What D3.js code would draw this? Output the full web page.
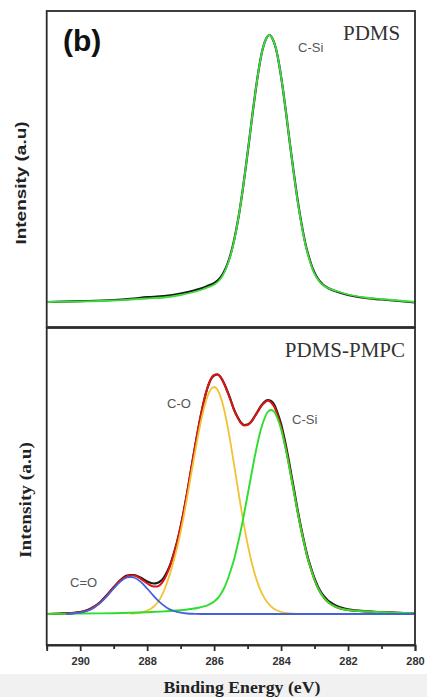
<!DOCTYPE html>
<html>
<head>
<meta charset="utf-8">
<script src="https://cdn.jsdelivr.net/npm/d3@7/dist/d3.min.js"></script>
<style>
  html, body { margin: 0; padding: 0; background: #ffffff; }
  svg { display: block; }
</style>
</head>
<body>
<svg id="chart" width="427" height="697"></svg>
<script>
// ---------------- DATA (binding energy eV, intensity a.u. above baseline) ----------------
const majorTicks = [290, 288, 286, 284, 282, 280];
const minorTicks = [291, 289, 287, 285, 283, 281];

// Top panel: PDMS
const pdmsData = [
  [291.0,0],[290.0,0.8],[289.0,2],[288.5,3.2],[288.0,4.8],[287.5,6],[287.0,8.5],[286.6,11.5],
  [286.35,14],[286.2,16],[286.05,18],[285.95,20],[285.85,23],[285.75,27.5],[285.65,34],
  [285.55,43],[285.45,55],[285.35,70.5],[285.25,89],[285.15,111],[285.05,136],[284.95,162],
  [284.85,189],[284.75,214],[284.65,236],[284.55,253],[284.45,263],[284.35,267],[284.25,263],
  [284.15,253],[284.05,236],[283.95,214],[283.85,189],[283.75,162],[283.65,136.5],[283.55,112],
  [283.45,90],[283.35,71],[283.25,55],[283.15,43],[283.05,33],[282.95,26],[282.85,21],
  [282.75,17.5],[282.6,14],[282.35,10.5],[282.0,7],[281.5,4],[281.0,2.5],[280.5,1],[280.0,-0.5]
];
const pdmsFit = [
  [291.0,0],[290.0,0.5],[289.0,1.5],[288.5,2.5],[288.0,3.5],[287.5,4.5],[287.0,7],[286.6,10],
  [286.35,12.5],[286.2,14.5],[286.05,16.5],[285.95,18.5],[285.85,21.5],[285.75,26],[285.65,33],
  [285.55,42],[285.45,54],[285.35,70],[285.25,89],[285.15,111],[285.05,136],[284.95,162],
  [284.85,189],[284.75,214],[284.65,236],[284.55,253],[284.45,263],[284.35,267],[284.25,263],
  [284.15,253],[284.05,236],[283.95,214],[283.85,189],[283.75,162],[283.65,136],[283.55,111],
  [283.45,89],[283.35,70],[283.25,54],[283.15,42],[283.05,32],[282.95,25],[282.85,20.5],
  [282.75,17],[282.6,14],[282.35,11],[282.0,7.5],[281.5,4.5],[281.0,3],[280.5,1.5],[280.0,0]
];

// Bottom panel: PDMS-PMPC
const coPeak = [ // C-O component (yellow)
  [288.5,0.3],[288.4,0.5],[288.2,1.4],[288.0,3.3],[287.9,5],[287.8,7.5],[287.7,11],[287.6,16],
  [287.5,23],[287.4,32],[287.3,42],[287.2,54],[287.1,67],[287.0,82],[286.9,99],[286.8,117.5],
  [286.7,137],[286.6,156],[286.5,174.5],[286.4,191.5],[286.3,206],[286.2,217.4],[286.1,224.5],
  [286.0,227],[285.9,224.3],[285.8,216.6],[285.7,204.2],[285.6,188],[285.5,169.2],[285.4,148.7],
  [285.3,127.6],[285.2,107],[285.1,87.6],[285.0,70],[284.9,54.7],[284.8,41.7],[284.7,31.1],
  [284.6,22.6],[284.5,16.1],[284.4,11.2],[284.3,7.6],[284.2,5.0],[284.1,3.2],[284.0,2.0],
  [283.8,0.8],[283.6,0.3]
];
const csiPeak = [ // C-Si component (green)
  [291.0,0],[290.5,0.3],[290.0,0.5],[289.5,0.65],[289.0,0.8],[288.5,1.2],[288.0,1.8],[287.6,2.4],
  [287.3,3],[287.0,3.8],[286.7,5],[286.5,6],[286.4,6.8],[286.3,7.6],[286.2,8.7],[286.1,10.3],
  [286.0,12.5],[285.9,15.5],[285.8,20],[285.7,26],[285.6,34],[285.5,44],[285.4,55],[285.3,69],
  [285.2,84],[285.1,101],[285.0,119],[284.9,137],[284.8,155],[284.7,171],[284.6,185],[284.5,195],
  [284.4,202],[284.3,204],[284.2,202],[284.1,195],[284.0,185],[283.9,171],[283.8,155],[283.7,137],
  [283.6,119],[283.5,101],[283.4,84],[283.3,69],[283.2,55],[283.1,44],[283.0,34],[282.9,26],
  [282.8,20],[282.7,15.5],[282.6,12],[282.5,9.5],[282.4,7.7],[282.3,6.3],[282.1,4.5],[281.9,3.5],
  [281.6,2.8],[281.3,2.2],[280.8,1.6],[280.3,1.1],[280.0,0.9]
];
const cdoPeak = [ // C=O component (blue)
  [290.4,0],[290.2,0.5],[290.0,1.3],[289.8,3.0],[289.6,6.1],[289.4,11.1],[289.2,17.9],[289.0,25.5],
  [288.8,32.4],[288.6,36.5],[288.5,37],[288.4,36.5],[288.2,32.4],[288.0,25.5],[287.8,17.9],
  [287.6,11.1],[287.4,6.1],[287.2,3.0],[287.0,1.3],[286.8,0.5],[286.6,0.2],[286.4,0],[280.0,0]
];
const envelope = [ // cumulative fit (red)
  [291.0,0],[290.6,0.3],[290.4,0.5],[290.2,0.9],[290.0,1.7],[289.8,3.5],[289.6,6.7],[289.4,11.8],
  [289.2,18.6],[289.0,26.3],[288.8,33.4],[288.6,37.8],[288.5,38.5],[288.4,38.4],[288.2,35.4],
  [288.0,30.6],[287.8,27.4],[287.7,27.6],[287.6,29.5],[287.5,34],[287.4,40.9],[287.3,49.4],
  [287.2,60.2],[287.1,72.6],[287.0,87.1],[286.9,103.9],[286.8,122.4],[286.7,142.3],[286.6,161.9],
  [286.5,180.6],[286.4,198.3],[286.3,213.6],[286.2,226.1],[286.1,234.8],[286.0,239],[285.9,239.8],
  [285.8,236.6],[285.7,230.2],[285.6,222],[285.5,213.2],[285.4,203.7],[285.3,196.6],[285.2,191],
  [285.1,188.6],[285.0,189],[284.9,191.7],[284.8,196.7],[284.7,202.1],[284.6,207.6],[284.5,211.1],
  [284.4,213.2],[284.3,211.6],[284.2,207],[284.1,198.2],[284.0,187],[283.9,172.2],[283.8,155.8],
  [283.7,137.5],[283.6,119.3],[283.5,101],[283.4,84],[283.3,69],[283.2,55],[283.1,44],[283.0,34],
  [282.9,26],[282.8,20],[282.7,15.5],[282.6,12],[282.5,9.5],[282.4,7.7],[282.3,6.3],[282.1,4.5],
  [281.9,3.5],[281.6,2.8],[281.3,2.2],[280.8,1.6],[280.3,1.1],[280.0,0.9]
];
const measured = [ // raw spectrum (black)
  [291.0,0],[290.6,0.5],[290.4,0.8],[290.2,1.2],[290.0,2],[289.8,3.8],[289.6,7],[289.4,12],
  [289.2,19],[289.0,26.8],[288.8,34],[288.6,38.5],[288.5,39],[288.4,39],[288.2,36.5],
  [288.0,32.5],[287.8,30.5],[287.7,31],[287.6,32.8],[287.5,36.5],[287.4,42.5],[287.3,50.5],
  [287.2,61],[287.1,73],[287.0,87.5],[286.9,104],[286.8,122.4],[286.7,142],[286.6,161.5],
  [286.5,180.6],[286.4,198],[286.3,213.6],[286.2,226],[286.1,234.5],[286.0,238.5],[285.9,239.5],
  [285.8,236.6],[285.7,230.5],[285.6,222.5],[285.5,213.5],[285.4,204],[285.3,197],[285.2,191.5],
  [285.1,189],[285.0,189.5],[284.9,192],[284.8,197],[284.7,202.5],[284.6,208],[284.5,212],
  [284.4,214],[284.3,213],[284.2,209],[284.1,200.5],[284.0,190],[283.9,175.5],[283.8,159],
  [283.7,140.5],[283.6,122],[283.5,103],[283.4,86],[283.3,70.5],[283.2,56.5],[283.1,45.5],
  [283.0,35.5],[282.9,27.5],[282.8,21.5],[282.7,17],[282.6,13.5],[282.5,11],[282.4,9],
  [282.3,7.5],[282.1,5.5],[281.9,4.2],[281.6,3.2],[281.3,2.4],[280.8,1.6],[280.3,0.8],[280.0,0.5]
];

// ---------------- DRAWING ----------------
const svg = d3.select("#chart");
const SANS = "'Liberation Sans', Arial, Helvetica, sans-serif";
const SERIF = "'Liberation Serif', 'Times New Roman', serif";

// light grey strip at the bottom of the image
svg.append("rect").attr("x", 0).attr("y", 674).attr("width", 427).attr("height", 23).attr("fill", "#f1f1f1");

const left = 46.7, right = 415;
const x = d3.scaleLinear().domain([291, 280]).range([left, right]);

const topPanel = { y0: 11, y1: 327 };
const botPanel = { y0: 328, y1: 645 };
const yTop = d3.scaleLinear().domain([-25, 291]).range([topPanel.y1, topPanel.y0]);
const yBot = d3.scaleLinear().domain([-31, 286]).range([botPanel.y1, botPanel.y0]);

function lineFor(y) {
  return d3.line().x(d => x(d[0])).y(d => y(d[1])).curve(d3.curveMonotoneX);
}

function drawCurve(g, data, y, color, width) {
  g.append("path").datum(data).attr("d", lineFor(y))
    .attr("fill", "none").attr("stroke", color).attr("stroke-width", width)
    .attr("stroke-linejoin", "round").attr("stroke-linecap", "round");
}

// clip paths for panels
const defs = svg.append("defs");
defs.append("clipPath").attr("id", "clipTop").append("rect")
  .attr("x", left).attr("y", topPanel.y0).attr("width", right - left).attr("height", topPanel.y1 - topPanel.y0);
defs.append("clipPath").attr("id", "clipBot").append("rect")
  .attr("x", left).attr("y", botPanel.y0).attr("width", right - left).attr("height", botPanel.y1 - botPanel.y0);

// ----- top panel -----
const gTop = svg.append("g").attr("clip-path", "url(#clipTop)");
drawCurve(gTop, pdmsData, yTop, "#1a1a1a", 2.2);
drawCurve(gTop, pdmsFit, yTop, "#3ddc3d", 1.8);

// ----- bottom panel -----
const gBot = svg.append("g").attr("clip-path", "url(#clipBot)");
drawCurve(gBot, measured, yBot, "#1a1a1a", 2.2);
drawCurve(gBot, envelope, yBot, "#dd1515", 2);
drawCurve(gBot, coPeak, yBot, "#f2c232", 1.8);
drawCurve(gBot, csiPeak, yBot, "#2ede2e", 1.9);
drawCurve(gBot, cdoPeak, yBot, "#4262dc", 1.8);

// frames
svg.append("rect").attr("x", left).attr("y", topPanel.y0).attr("width", right - left)
  .attr("height", topPanel.y1 - topPanel.y0).attr("fill", "none").attr("stroke", "#2b2b2b").attr("stroke-width", 1.8);
svg.append("rect").attr("x", left).attr("y", botPanel.y0).attr("width", right - left)
  .attr("height", botPanel.y1 - botPanel.y0).attr("fill", "none").attr("stroke", "#2b2b2b").attr("stroke-width", 1.8);

// x axis (bottom panel)
const axMajor = svg.append("g").attr("transform", `translate(0,${botPanel.y1})`)
  .call(d3.axisBottom(x).tickValues(majorTicks).tickSize(6).tickPadding(6).tickFormat(d3.format("d")));
axMajor.select(".domain").attr("stroke", "#2b2b2b").attr("stroke-width", 1.8);
axMajor.selectAll(".tick line").attr("stroke", "#2b2b2b").attr("stroke-width", 1.8);
axMajor.selectAll(".tick text").attr("font-family", SANS).attr("font-weight", "bold")
  .attr("font-size", 11).attr("fill", "#333");
const axMinor = svg.append("g").attr("transform", `translate(0,${botPanel.y1})`)
  .call(d3.axisBottom(x).tickValues(minorTicks).tickSize(4).tickFormat(""));
axMinor.select(".domain").remove();
axMinor.selectAll(".tick line").attr("stroke", "#2b2b2b").attr("stroke-width", 1.8);

// axis titles
svg.append("text").attr("x", 242).attr("y", 693).attr("text-anchor", "middle")
  .attr("font-family", SERIF).attr("font-weight", "bold").attr("font-size", 17).attr("fill", "#222")
  .attr("textLength", 157).attr("lengthAdjust", "spacingAndGlyphs")
  .text("Binding Energy (eV)");
svg.append("text").attr("transform", "translate(20,183) rotate(-90)").attr("text-anchor", "middle")
  .attr("dominant-baseline", "central")
  .attr("font-family", SANS).attr("font-weight", "bold").attr("font-size", 15.5).attr("fill", "#222")
  .attr("textLength", 123).attr("lengthAdjust", "spacingAndGlyphs")
  .text("Intensity (a.u)");
svg.append("text").attr("transform", "translate(25,500) rotate(-90)").attr("text-anchor", "middle")
  .attr("dominant-baseline", "central")
  .attr("font-family", SERIF).attr("font-weight", "bold").attr("font-size", 16.5).attr("fill", "#222")
  .attr("textLength", 116).attr("lengthAdjust", "spacingAndGlyphs")
  .text("Intensity (a.u)");

// annotations
svg.append("text").attr("x", 63).attr("y", 51).attr("font-family", SANS).attr("font-weight", "bold")
  .attr("font-size", 30).attr("fill", "#111").text("(b)");
svg.append("text").attr("x", 343).attr("y", 40).attr("font-family", SERIF)
  .attr("font-size", 21).attr("fill", "#333").text("PDMS");
svg.append("text").attr("x", 405).attr("y", 357).attr("text-anchor", "end").attr("font-family", SERIF)
  .attr("font-size", 21).attr("fill", "#333").text("PDMS-PMPC");

const peakLabels = [
  { t: "C-Si", x: 298, y: 51.5 },
  { t: "C-O", x: 167, y: 408 },
  { t: "C-Si", x: 292, y: 424 },
  { t: "C=O", x: 70, y: 587 }
];
svg.selectAll("text.peak").data(peakLabels).enter().append("text").attr("class", "peak")
  .attr("x", d => d.x).attr("y", d => d.y).attr("font-family", SANS).attr("font-size", 13)
  .attr("fill", "#555").text(d => d.t);
</script>
</body>
</html>
